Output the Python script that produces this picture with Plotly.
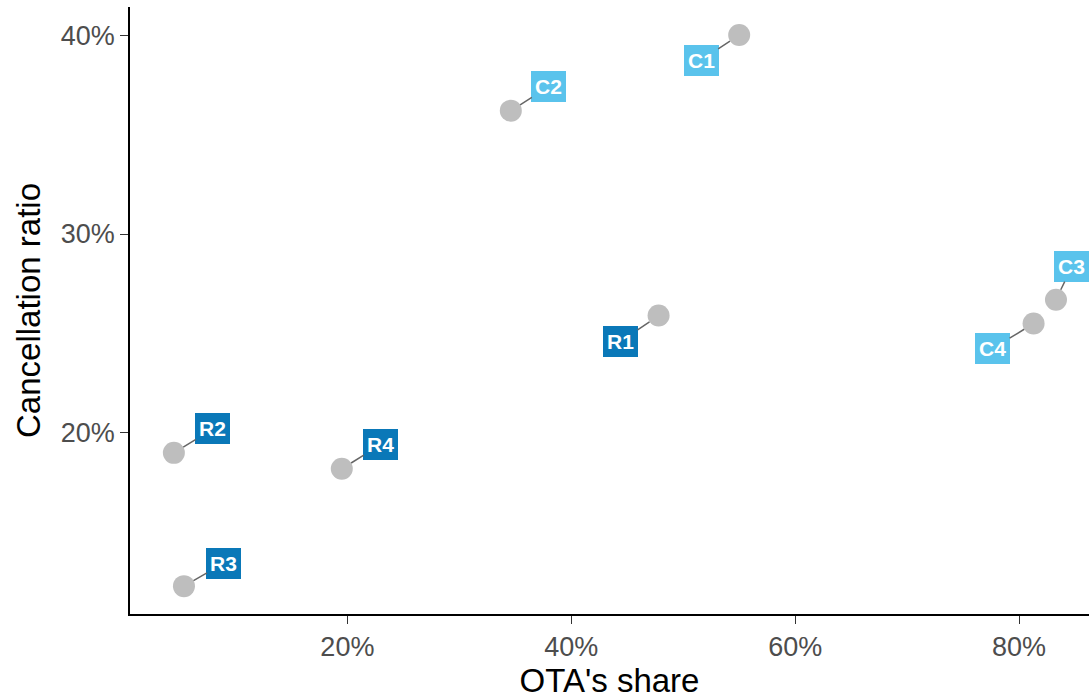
import plotly.graph_objects as go

labels = ["C1", "C2", "C3", "C4", "R1", "R2", "R3", "R4"]
ota_share = [0.550, 0.346, 0.833, 0.813, 0.478, 0.045, 0.054, 0.195]
cancel_ratio = [0.400, 0.362, 0.267, 0.255, 0.259, 0.190, 0.123, 0.182]
groups = ["C", "C", "C", "C", "R", "R", "R", "R"]
label_dx = [-38, 38, 16, -41, -38, 39, 40, 39]
label_dy = [25, -24, -33, 25, 26, -24, -23, -24]

group_colors = {"C": "#5AC3EC", "R": "#0A78B8"}
FONT = "Liberation Sans, Arial, Helvetica, sans-serif"

fig = go.Figure()
fig.add_trace(go.Scatter(
    x=ota_share, y=cancel_ratio, mode="markers",
    marker=dict(size=22, color="#BEBEBE"),
    hoverinfo="text", text=labels, showlegend=False,
))

for lab, xv, yv, g, dx, dy in zip(labels, ota_share, cancel_ratio, groups, label_dx, label_dy):
    fig.add_annotation(
        x=xv, y=yv, xref="x", yref="y", ax=dx, ay=dy, axref="pixel", ayref="pixel",
        text="<b>%s</b>" % lab, showarrow=True, arrowhead=0, arrowwidth=1.5,
        arrowcolor="#666666", standoff=11,
        font=dict(family=FONT, size=21, color="white"),
        bgcolor=group_colors[g], bordercolor=group_colors[g], borderwidth=1, borderpad=3,
    )

fig.update_layout(
    width=1089, height=700,
    margin=dict(l=130, r=0, t=7, b=86),
    plot_bgcolor="white", paper_bgcolor="white",
    font=dict(family=FONT),
)
fig.update_xaxes(
    range=[0.0058, 0.8625], tickvals=[0.2, 0.4, 0.6, 0.8], tickformat=".0%",
    showline=True, linecolor="black", linewidth=1.5, showgrid=False, zeroline=False,
    ticks="outside", ticklen=8, tickwidth=1.2, tickcolor="#333333",
    tickfont=dict(size=27, color="#4D4D4D", family=FONT),
    title=dict(text="OTA's share", font=dict(size=33, color="black", family=FONT), standoff=8),
)
fig.update_yaxes(
    range=[0.1090, 0.4141], tickvals=[0.2, 0.3, 0.4], tickformat=".0%",
    showline=True, linecolor="black", linewidth=1.5, showgrid=False, zeroline=False,
    ticks="outside", ticklen=8, tickwidth=1.2, tickcolor="#333333",
    tickfont=dict(size=27, color="#4D4D4D", family=FONT),
    title=dict(text="Cancellation ratio", font=dict(size=33, color="black", family=FONT), standoff=10),
)

fig.write_html("out.html", config={"displayModeBar": False},
               post_script="document.body.style.margin='0px';")
